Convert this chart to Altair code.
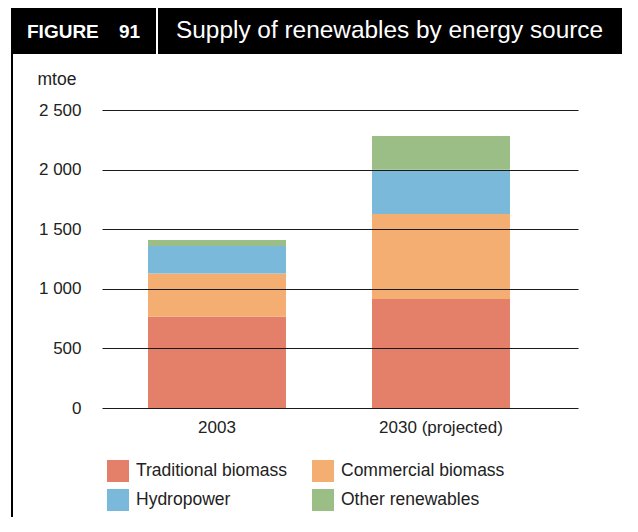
import altair as alt
import pandas as pd

categories = ["2003", "2030 (projected)"]
sources = ["Traditional biomass", "Commercial biomass", "Hydropower", "Other renewables"]
traditional = [765, 915]
commercial = [363, 713]
hydropower = [232, 370]
other = [50, 284]
colors = ["#E47F6A", "#F5AE72", "#7AB9D9", "#9BBE87"]
y_ticks = [0, 500, 1000, 1500, 2000, 2500]
# legend is laid out column by column, so list it as the two columns
legend_order = ["Traditional biomass", "Hydropower", "Commercial biomass", "Other renewables"]

rows = []
for si, (name, vals) in enumerate(zip(sources, [traditional, commercial, hydropower, other])):
    for c, v in zip(categories, vals):
        rows.append({"year": c, "source": name, "value": v, "idx": si})
df = pd.DataFrame(rows)

color_range = [colors[sources.index(s)] for s in legend_order]

FONT = "Liberation Sans"
TXT = "#222222"

bars = alt.Chart(df).mark_bar(opacity=1).encode(
    x=alt.X("year:N", sort=categories,
            scale=alt.Scale(paddingInner=0.384, paddingOuter=0.2545, align=0.4035),
            axis=alt.Axis(title=None, labelAngle=0, labelFontSize=17, labelColor=TXT,
                          labelFont=FONT, labelPadding=11, domain=False, ticks=False)),
    y=alt.Y("value:Q", stack="zero",
            scale=alt.Scale(domain=[0, 2500], nice=False),
            axis=alt.Axis(values=y_ticks, title="mtoe", titleAngle=0, titleAlign="left",
                          titleBaseline="middle", titleX=-65, titleY=-31,
                          titleFontSize=17.5, titleFontWeight="normal", titleColor=TXT,
                          titleFont=FONT,
                          labelExpr="replace(format(datum.value, ','), ',', ' ')",
                          labelFontSize=17, labelColor=TXT, labelFont=FONT, labelPadding=21,
                          domain=False, ticks=False, grid=True, gridColor="#1a1a1a",
                          gridWidth=1, gridOpacity=1, zindex=1)),
    color=alt.Color("source:N", sort=legend_order,
                    scale=alt.Scale(domain=legend_order, range=color_range),
                    legend=alt.Legend(title=None, orient="none", legendX=5, legendY=350,
                                      columns=2, symbolType="square", symbolSize=484,
                                      symbolStrokeWidth=0, symbolOpacity=1,
                                      labelFontSize=17.5, labelColor=TXT, labelFont=FONT,
                                      labelOffset=7, columnPadding=24, rowPadding=7,
                                      padding=0, labelLimit=300)),
    order=alt.Order("idx:Q", sort="ascending"),
)

one = pd.DataFrame({"a": [0]})
header = alt.Chart(one).mark_rect(color="black").encode(
    x=alt.value(-91), x2=alt.value(540), y=alt.value(-112), y2=alt.value(-56)
)
sep = alt.Chart(one).mark_rule(color="white", strokeWidth=2).encode(
    x=alt.value(55), y=alt.value(-112), y2=alt.value(-56)
)
border = alt.Chart(one).mark_rule(color="black", strokeWidth=2).encode(
    x=alt.value(-90), y=alt.value(-56), y2=alt.value(430)
)
fig = alt.Chart(one).mark_text(text="FIGURE", color="white", fontSize=19, fontWeight="bold",
                               font=FONT, align="left", baseline="alphabetic").encode(
    x=alt.value(-75), y=alt.value(-72)
)
num = alt.Chart(one).mark_text(text="91", color="white", fontSize=19, fontWeight="bold",
                               font=FONT, align="left", baseline="alphabetic").encode(
    x=alt.value(17), y=alt.value(-72)
)
title = alt.Chart(one).mark_text(text="Supply of renewables by energy source", color="white",
                                 fontSize=24.4, font=FONT, align="left",
                                 baseline="alphabetic").encode(
    x=alt.value(74), y=alt.value(-72)
)

chart = alt.layer(bars, header, sep, border, fig, num, title).properties(
    width=476, height=298,
    autosize=alt.AutoSizeParams(type="none"),
    padding={"left": 94, "top": 102, "right": 44, "bottom": 109},
    background="white",
).configure_view(stroke=None, strokeWidth=0)

chart.save("out.html", embed_options={"renderer": "svg", "actions": False})
